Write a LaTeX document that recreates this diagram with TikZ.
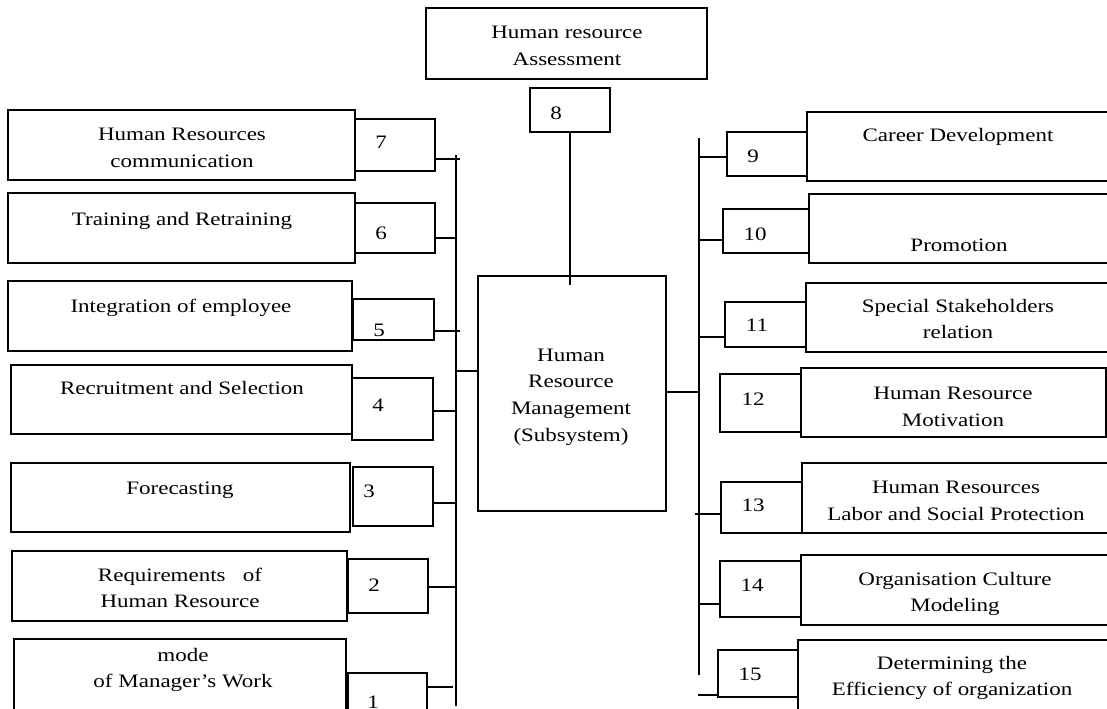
\documentclass[tikz,border=0pt]{standalone}
\usepackage{fontspec}
\setmainfont{Liberation Serif}[FakeStretch=1.21]
\usetikzlibrary{fit,positioning}

\tikzset{
  frame/.style={draw, line width=0.9pt, inner sep=0pt},
  txt/.style={align=center, inner sep=0pt, font=\fontsize{9.5}{13.3}\selectfont},
  link/.style={line width=0.9pt}
}

\begin{document}
\begin{tikzpicture}[x=0.5pt, y=-0.5pt]
  \useasboundingbox (0,0) rectangle (1107,708);
  \clip (0,0) rectangle (1107,708);

  % top and centre
  \node[frame, fit={(426,8) (707,79)}] (assess) {};
  \node[txt] (assessT) at (567,46) {Human resource\\Assessment};
  \node[frame, fit={(530,88) (610,132)}] (n8) {};
  \node[txt] (n8T) at (556,113) {8};
  \node[frame, fit={(478,276) (666,511)}] (hrm) {};
  \node[txt] (hrmT) at (571,397) {Human\\Resource\\Management\\(Subsystem)};
  \coordinate (c8) at (570,285);
  \draw[link] (n8.south) -- (c8);

  % spines
  \coordinate (spL1) at (456,155);
  \coordinate (spL2) at (456,706);
  \coordinate (spR1) at (699,138);
  \coordinate (spR2) at (699,675);
  \draw[link] (spL1) -- (spL2);
  \draw[link] (spR1) -- (spR2);
  \coordinate (jL) at (456,371);
  \coordinate (jR) at (699,392);
  \draw[link] (jL) -- (hrm.west |- jL);
  \draw[link] (hrm.east |- jR) -- (jR);

  % left side
  \node[frame, fit={(8,110) (355,180)}] (b7) {};
  \node[frame, fit={(355,119) (435,171)}] (n7) {};
  \node[txt] (b7T) at (182,148) {Human Resources\\communication};
  \node[txt] (n7T) at (381,142) {7};
  \coordinate (c7) at (460,159);
  \draw[link] (n7.east |- c7) -- (c7);

  \node[frame, fit={(8,193) (355,263)}] (b6) {};
  \node[frame, fit={(355,203) (435,253)}] (n6) {};
  \node[txt] (b6T) at (182,221) {Training and Retraining};
  \node[txt] (n6T) at (381,233) {6};
  \coordinate (c6) at (456,238);
  \draw[link] (n6.east |- c6) -- (c6);

  \node[frame, fit={(8,281) (352,351)}] (b5) {};
  \node[frame, fit={(353,299) (434,340)}] (n5) {};
  \node[txt] (b5T) at (181,308) {Integration of employee};
  \node[txt] (n5T) at (379,330) {5};
  \coordinate (c5) at (460,331);
  \draw[link] (n5.east |- c5) -- (c5);

  \node[frame, fit={(11,365) (352,434)}] (b4) {};
  \node[frame, fit={(352,378) (433,440)}] (n4) {};
  \node[txt] (b4T) at (182,388) {Recruitment and Selection};
  \node[txt] (n4T) at (378,405) {4};
  \coordinate (c4) at (456,411);
  \draw[link] (n4.east |- c4) -- (c4);

  \node[frame, fit={(11,463) (350,532)}] (b3) {};
  \node[frame, fit={(353,467) (433,526)}] (n3) {};
  \node[txt] (b3T) at (180,490) {Forecasting};
  \node[txt] (n3T) at (369,491) {3};
  \coordinate (c3) at (456,503);
  \draw[link] (n3.east |- c3) -- (c3);

  \node[frame, fit={(12,551) (347,621)}] (b2) {};
  \node[frame, fit={(348,559) (428,613)}] (n2) {};
  \node[txt] (b2T) at (180,588) {Requirements\ \ \ of\\Human Resource};
  \node[txt] (n2T) at (374,585) {2};
  \coordinate (c2) at (456,587);
  \draw[link] (n2.east |- c2) -- (c2);

  \node[frame, fit={(14,639) (346,720)}] (b1) {};
  \node[frame, fit={(348,673) (427,720)}] (n1) {};
  \node[txt] (b1T) at (183,670) {mode\\of Manager’s Work};
  \node[txt] (n1T) at (373,702) {1};
  \coordinate (c1) at (453,687);
  \draw[link] (n1.east |- c1) -- (c1);

  % right side
  \node[frame, fit={(727,132) (807,176)}] (n9) {};
  \node[frame, fit={(807,112) (1115,181)}] (b9) {};
  \node[txt] (n9T) at (753,156) {9};
  \node[txt] (b9T) at (958,137) {Career Development};
  \coordinate (c9) at (699,157);
  \draw[link] (c9) -- (n9.west |- c9);

  \node[frame, fit={(723,209) (809,253)}] (n10) {};
  \node[frame, fit={(809,194) (1115,263)}] (b10) {};
  \node[txt] (n10T) at (755,234) {10};
  \node[txt] (b10T) at (959,245) {Promotion};
  \coordinate (c10) at (699,240);
  \draw[link] (c10) -- (n10.west |- c10);

  \node[frame, fit={(725,302) (806,347)}] (n11) {};
  \node[frame, fit={(806,283) (1115,352)}] (b11) {};
  \node[txt] (n11T) at (757,325) {11};
  \node[txt] (b11T) at (958,319) {Special Stakeholders\\relation};
  \coordinate (c11) at (699,337);
  \draw[link] (c11) -- (n11.west |- c11);

  \node[frame, fit={(720,374) (801,432)}] (n12) {};
  \node[frame, fit={(801,368) (1106,437)}] (b12) {};
  \node[txt] (n12T) at (753,399) {12};
  \node[txt] (b12T) at (953,407) {Human Resource\\Motivation};

  \node[frame, fit={(721,482) (802,533)}] (n13) {};
  \node[frame, fit={(802,463) (1115,533)}] (b13) {};
  \node[txt] (n13T) at (753,505) {13};
  \node[txt] (b13T) at (956,501) {Human Resources\\Labor and Social Protection};
  \coordinate (c13) at (695,514);
  \draw[link] (c13) -- (n13.west |- c13);

  \node[frame, fit={(720,561) (801,617)}] (n14) {};
  \node[frame, fit={(801,555) (1115,625)}] (b14) {};
  \node[txt] (n14T) at (752,585) {14};
  \node[txt] (b14T) at (955,594) {Organisation Culture\\Modeling};
  \coordinate (c14) at (699,604);
  \draw[link] (c14) -- (n14.west |- c14);

  \node[frame, fit={(718,650) (798,697)}] (n15) {};
  \node[frame, fit={(798,640) (1115,720)}] (b15) {};
  \node[txt] (n15T) at (750,674) {15};
  \node[txt] (b15T) at (952,678) {Determining the\\Efficiency of organization};
  \coordinate (c15) at (698,695);
  \draw[link] (c15) -- (n15.west |- c15);
\end{tikzpicture}
\end{document}
